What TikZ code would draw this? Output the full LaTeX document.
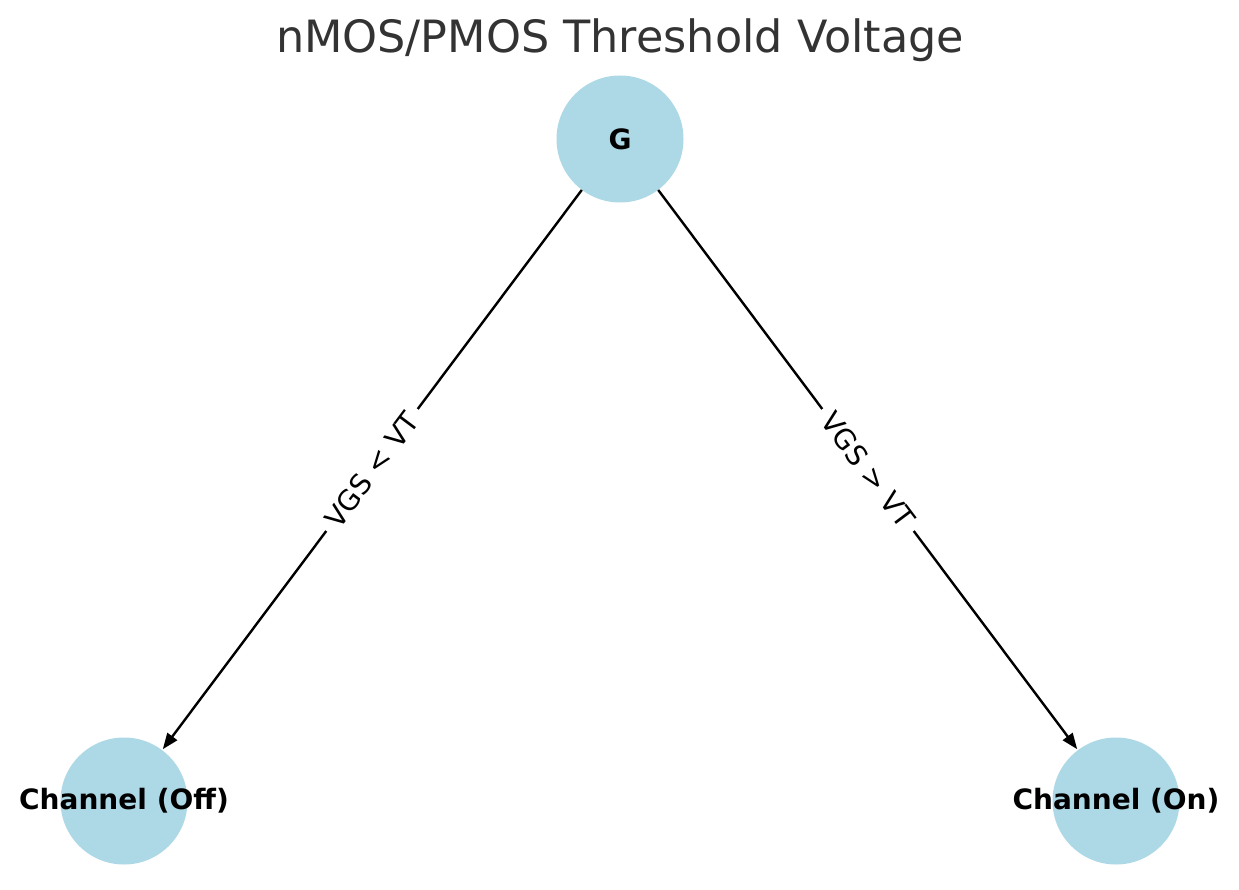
\documentclass[tikz,border=0pt]{standalone}
\usepackage{fontspec}
\setmainfont{DejaVu Sans}
\usetikzlibrary{arrows.meta}
\definecolor{nodeblue}{HTML}{ADD8E6}
\definecolor{titlegray}{HTML}{333333}
\begin{document}
\begin{tikzpicture}[x=1pt,y=-1pt,
  dot/.style={circle,fill=nodeblue,draw=none,minimum size=127pt,inner sep=0pt},
  lbl/.style={font=\fontsize{28}{33}\selectfont\bfseries,text=black,inner sep=0pt},
  edge/.style={line width=2.4pt,black,-{Triangle[length=16pt,width=12pt]},shorten >=1pt},
  elbl/.style={font=\fontsize{28}{33}\selectfont,fill=white,inner sep=8pt,sloped,midway}
]
\useasboundingbox[fill=white] (0,0) rectangle (1239,890);
\node[font=\fontsize{44.5}{52}\selectfont,text=titlegray] (title) at (620,40) {nMOS/PMOS Threshold Voltage};
\node[dot] (g) at (620,139) {};
\node[dot] (off) at (124,801) {};
\node[dot] (on) at (1116,801) {};
\node[lbl] (gl) at (g) {G};
\node[lbl] (offl) at (off) {Channel (Off)};
\node[lbl] (onl) at (on) {Channel (On)};
\draw[edge] (g) -- node[elbl] {VGS < VT} (off);
\draw[edge] (g) -- node[elbl] {VGS > VT} (on);
\end{tikzpicture}
\end{document}
